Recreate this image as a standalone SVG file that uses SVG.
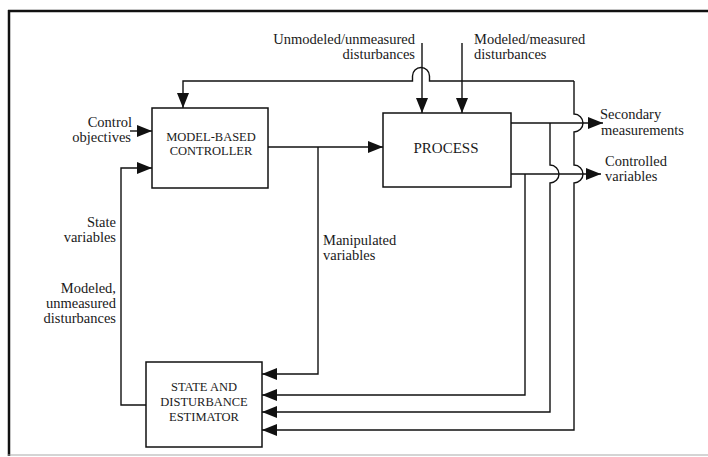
<svg xmlns="http://www.w3.org/2000/svg" width="708" height="457" viewBox="0 0 708 457">
<defs>
<marker id="ah" markerUnits="userSpaceOnUse" markerWidth="16" markerHeight="13" refX="15" refY="6" orient="auto">
<path d="M0,0 L15,6 L0,12 Z" fill="#111"/>
</marker>
<style>
.box{fill:#fff;stroke:#111;stroke-width:1.5}
.ln{fill:none;stroke:#111;stroke-width:1.4}
.lbl{font-family:"Liberation Serif","Times New Roman",serif;font-size:14.5px;fill:#1a1a1a}
.bt{font-family:"Liberation Serif","Times New Roman",serif;font-size:12.5px;fill:#1a1a1a;text-anchor:middle}
.r{text-anchor:end}
</style>
</defs>
<rect width="708" height="457" fill="#fff"/>
<g id="frame">
<line x1="8" y1="11" x2="708" y2="11" stroke="#111" stroke-width="2.5"/>
<line x1="9" y1="10" x2="9" y2="456" stroke="#111" stroke-width="2.5"/>
<line x1="8" y1="455" x2="708" y2="455" stroke="#aaa" stroke-width="1.2"/>
</g>
<g id="connectors">
<path class="ln" d="M130,131 L152,131" marker-end="url(#ah)"/>
<path class="ln" d="M146,405 L121,405 L121,168 L152,168" marker-end="url(#ah)"/>
<path class="ln" d="M268,147 L383,147" marker-end="url(#ah)"/>
<path class="ln" d="M318,147 L318,374 L262,374" marker-end="url(#ah)"/>
<path class="ln" d="M422,43 L422,113" marker-end="url(#ah)"/>
<path class="ln" d="M462,43 L462,113" marker-end="url(#ah)"/>
<path class="ln" d="M574,81 L429.5,81 L429.5,76 A8.5,8.5 0 0 0 412.5,76 L412.5,81 L183,81 L183,108" marker-end="url(#ah)"/>
<path class="ln" d="M574,81 L574,114 A9,9 0 0 1 574,132 L574,165 A9,9 0 0 1 574,183 L574,430 L262,430" marker-end="url(#ah)"/>
<path class="ln" d="M511,123 L603,123" marker-end="url(#ah)"/>
<path class="ln" d="M550,123 L550,165 A9,9 0 0 1 550,183 L550,412 L262,412" marker-end="url(#ah)"/>
<path class="ln" d="M511,174 L601,174" marker-end="url(#ah)"/>
<path class="ln" d="M525,174 L525,395 L262,395" marker-end="url(#ah)"/>
</g>
<g id="controller">
<rect class="box" x="152" y="108" width="116" height="80"/>
<text class="bt" x="211" y="141">MODEL-BASED</text>
<text class="bt" x="211" y="155">CONTROLLER</text>
</g>
<g id="process">
<rect class="box" x="383" y="113" width="128" height="74"/>
<text class="bt" x="446" y="153" style="font-size:15px">PROCESS</text>
</g>
<g id="estimator">
<rect class="box" x="146" y="362" width="116" height="85"/>
<text class="bt" x="204" y="391">STATE AND</text>
<text class="bt" x="204" y="406">DISTURBANCE</text>
<text class="bt" x="204" y="421">ESTIMATOR</text>
</g>
<g id="labels">
<text class="lbl r" x="415" y="44">Unmodeled/unmeasured</text>
<text class="lbl r" x="415" y="59">disturbances</text>
<text class="lbl" x="474" y="44">Modeled/measured</text>
<text class="lbl" x="474" y="59">disturbances</text>
<text class="lbl r" x="132" y="127">Control</text>
<text class="lbl r" x="131" y="142">objectives</text>
<text class="lbl" x="600" y="119">Secondary</text>
<text class="lbl" x="601" y="135">measurements</text>
<text class="lbl" x="605" y="166">Controlled</text>
<text class="lbl" x="605" y="181">variables</text>
<text class="lbl r" x="116" y="227">State</text>
<text class="lbl r" x="116" y="242">variables</text>
<text class="lbl r" x="116" y="293">Modeled,</text>
<text class="lbl r" x="116" y="308">unmeasured</text>
<text class="lbl r" x="116" y="323">disturbances</text>
<text class="lbl" x="323" y="245">Manipulated</text>
<text class="lbl" x="323" y="260">variables</text>
</g>
</svg>
